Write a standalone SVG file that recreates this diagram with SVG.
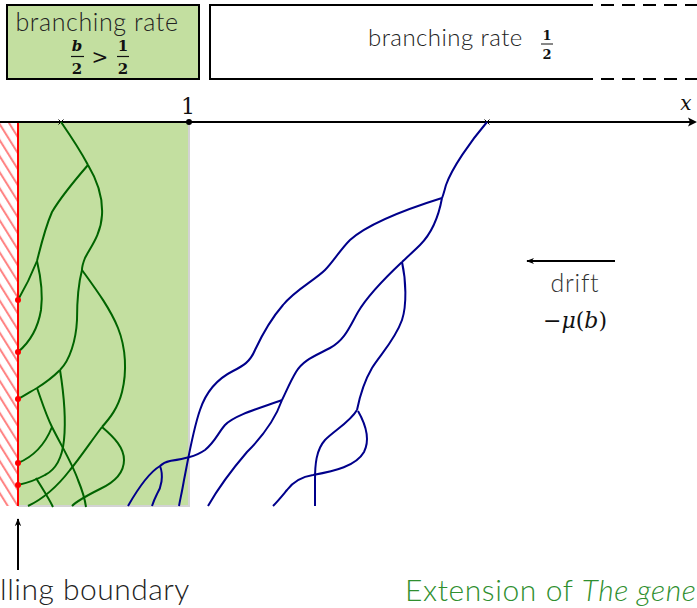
<svg xmlns="http://www.w3.org/2000/svg" width="697" height="608" viewBox="0 0 697 608">
<style>
.lbl{font-family:Lato,"Open Sans","Liberation Sans",sans-serif;font-weight:300;fill:#222}
.math{font-family:"DejaVu Serif","Liberation Serif",serif;fill:#111}
.gt{fill:none;stroke:#006400;stroke-width:2}
.bt{fill:none;stroke:#00008b;stroke-width:2}
.ax{stroke:#000;stroke-width:2;fill:none}
.dot{fill:#ff0000}
</style>
<defs>
<pattern id="hatch" patternUnits="userSpaceOnUse" width="8.5" height="20" patternTransform="rotate(-32)">
<line x1="2" y1="0" x2="2" y2="20" stroke="#ff8080" stroke-width="2"/>
</pattern>
<marker id="ah" viewBox="0 0 10 10" refX="9" refY="5" markerWidth="8" markerHeight="8" orient="auto-start-reverse" markerUnits="userSpaceOnUse">
<path d="M0,1 L10,5 L0,9 L3,5 Z" fill="#000"/>
</marker>
</defs>
<rect width="697" height="608" fill="#fff"/>

<g id="box-left">
<rect x="7" y="5" width="192" height="74" fill="#c3dfa0" stroke="#000" stroke-width="2"/>
<text class="lbl" x="97" y="31" font-size="25" letter-spacing="0.6" text-anchor="middle">branching rate</text>
<text class="math" x="77" y="51" font-size="15" font-style="italic" text-anchor="middle" font-weight="bold">b</text>
<line x1="71" y1="56.5" x2="84" y2="56.5" stroke="#111" stroke-width="1.2"/>
<text class="math" x="77" y="74" font-size="15" text-anchor="middle" font-weight="bold">2</text>
<text class="math" x="100" y="64" font-size="20" text-anchor="middle">&gt;</text>
<text class="math" x="123" y="51" font-size="15" text-anchor="middle" font-weight="bold">1</text>
<line x1="117" y1="56.5" x2="129" y2="56.5" stroke="#111" stroke-width="1.2"/>
<text class="math" x="123" y="74" font-size="15" text-anchor="middle" font-weight="bold">2</text>
</g>

<g id="box-right">
<path d="M580,5 L210,5 L210,79 L580,79" fill="none" stroke="#000" stroke-width="2"/>
<path d="M580,5 L697,5 M580,79 L697,79" fill="none" stroke="#000" stroke-width="2" stroke-dasharray="13,8"/>
<text class="lbl" x="368" y="46" font-size="24" letter-spacing="0.45">branching rate</text>
<text class="math" x="547" y="40" font-size="13" text-anchor="middle" font-weight="bold">1</text>
<line x1="541" y1="44" x2="553" y2="44" stroke="#111" stroke-width="1"/>
<text class="math" x="547" y="59" font-size="13" text-anchor="middle" font-weight="bold">2</text>
</g>

<g id="region">
<rect x="18" y="122" width="171" height="384" fill="#c3dfa0"/>
<path d="M189,122 L189,506 L18,506" fill="none" stroke="#d3d3d3" stroke-width="2"/>
<rect x="0" y="122" width="18" height="384" fill="url(#hatch)"/>
<line x1="18" y1="122" x2="18" y2="506" stroke="#ff0000" stroke-width="2"/>
</g>

<g id="axis">
<line class="ax" x1="0" y1="122" x2="690" y2="122"/>
<path d="M697,122 L688,117.5 L690,122 L688,126.5 Z" fill="#000"/>
<circle cx="189" cy="122" r="3" fill="#000"/>
<path d="M58.5,119.5 L63.5,124.5 M63.5,119.5 L58.5,124.5 M484.5,119.5 L489.5,124.5 M489.5,119.5 L484.5,124.5" stroke="#000" stroke-width="1"/>
<text class="math" x="188" y="114" font-size="22" text-anchor="middle">1</text>
<text class="math" x="686" y="110" font-size="20" font-style="italic" text-anchor="middle">x</text>
</g>

<g id="connectors">
<g id="green-tree">
<path class="gt" d="M61,122 C70,135 80,150 88,165"/>
<path class="gt" d="M88,165 C97,180 103,198 102,215 C101,235 90,248 85,258 C83,263 82,267 82,270"/>
<path class="gt" d="M88,165 C75,180 62,195 52,212 C45,228 41,245 37,261"/>
<path class="gt" d="M37,261 C31,276 25,288 18,300"/>
<path class="gt" d="M37,261 C41,278 43,295 41,310 C38,328 30,342 18,352"/>
<path class="gt" d="M82,270 C78,285 77,305 77,320 C76,340 70,360 60,370"/>
<path class="gt" d="M82,270 C95,288 110,308 118,328 C126,348 127,372 122,392 C118,408 110,418 102,427"/>
<path class="gt" d="M60,370 C52,378 45,383 37,388 C30,392 24,396 18,399"/>
<path class="gt" d="M60,370 C64,395 66,420 64,440 C62,460 55,470 45,475 C36,480 27,483 18,485"/>
<path class="gt" d="M36,478 C42,488 48,497 53,507"/>
<path class="gt" d="M37,388 C42,402 46,415 52,427 C62,447 72,463 78,480 C83,492 85,500 86,507"/>
<path class="gt" d="M52,427 C46,442 35,456 18,463"/>
<path class="gt" d="M102,427 C92,440 80,458 70,470 C60,483 45,498 28,506"/>
<path class="gt" d="M102,427 C115,438 124,448 124,460 C124,472 115,482 100,489 C88,495 78,500 72,506"/>
</g>
<g id="blue-tree">
<path class="bt" d="M487,122 C470,142 452,168 446,185 C444,192 443,196 442,198"/>
<path class="bt" d="M442,198 C438,220 430,235 420,245 C413,252 407,257 402,262"/>
<path class="bt" d="M442,198 C410,208 370,222 350,240 C340,250 333,262 325,270 C315,280 295,290 283,305 C270,320 262,335 255,350 C250,362 243,366 233,371 C215,380 205,395 200,410 C193,430 188,460 184,480 C182,492 180,500 179,506"/>
<path class="bt" d="M402,262 C385,278 368,295 358,312 C350,326 345,340 330,348 C315,356 303,360 296,372 C290,382 286,392 282,400"/>
<path class="bt" d="M282,400 C275,420 262,437 247,452 C235,466 220,485 208,506"/>
<path class="bt" d="M282,400 C260,408 235,415 225,425 C218,433 215,442 205,450 C195,457 182,459 170,461 C165,462 162,464 160,466 C150,472 140,485 128,506"/>
<path class="bt" d="M160,466 C164,476 161,488 157,494 C154,500 153,503 152,506"/>
<path class="bt" d="M402,262 C406,280 407,305 402,320 C395,340 380,355 372,368 C365,380 360,395 357,410"/>
<path class="bt" d="M358,411 C366,425 370,440 364,452 C356,466 335,471 313,475 C300,477 293,482 287,490 C282,496 278,501 273,506"/>
<path class="bt" d="M357,410 C350,422 335,430 325,440 C316,450 315,465 315,480 L315,506"/>
</g>
<line x1="18" y1="570" x2="18" y2="519" stroke="#000" stroke-width="2" marker-end="url(#ah)"/>
<line x1="615" y1="261" x2="527" y2="261" stroke="#000" stroke-width="2" marker-end="url(#ah)"/>
</g>

<g id="dots">
<circle class="dot" cx="18" cy="300" r="3"/>
<circle class="dot" cx="18" cy="352" r="3"/>
<circle class="dot" cx="18" cy="399" r="3"/>
<circle class="dot" cx="18" cy="463" r="3"/>
<circle class="dot" cx="18" cy="485" r="3"/>
</g>

<g id="drift">
<text class="lbl" x="575" y="292" font-size="25" letter-spacing="0.7" text-anchor="middle" style="fill:#333">drift</text>
<text class="math" x="575" y="328" font-size="22" text-anchor="middle">−<tspan font-style="italic">μ</tspan>(<tspan font-style="italic">b</tspan>)</text>
</g>

<g id="boundary-label">
<text class="lbl" x="0" y="600" font-size="30" letter-spacing="0.5">lling boundary</text>
</g>

<g id="caption">
<text class="lbl" x="405" y="601" font-size="30" letter-spacing="0.6" style="fill:#2f8f2f">Extension of <tspan font-style="italic">The gene</tspan></text>
</g>
</svg>
